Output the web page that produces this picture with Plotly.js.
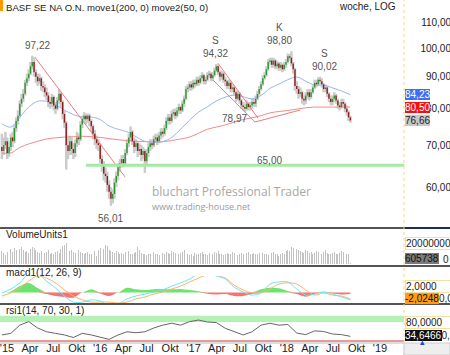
<!DOCTYPE html>
<html><head><meta charset="utf-8">
<script src="https://cdn.plot.ly/plotly-3.0.1.min.js"></script>
<style>html,body{margin:0;padding:0;background:#fff}#chart{width:450px;height:355px}</style>
</head><body><div id="chart"></div>
<script>
// weekly candles, first week 2014-12-12
const opens=[69.5,68.5,70.0,71.0,68.0,69.5,72.0,71.0,74.5,76.5,78.0,81.5,83.0,84.5,88.0,89.5,91.0,93.5,95.0,91.5,90.0,88.5,89.5,87.0,86.5,85.0,84.0,82.0,81.5,83.5,81.0,80.0,82.5,84.5,82.0,78.5,76.0,70.0,68.5,71.0,69.0,68.0,70.5,72.0,71.5,75.5,77.0,78.0,77.0,78.0,76.5,75.0,73.0,71.5,70.5,70.0,66.5,65.0,63.0,62.5,60.5,59.0,57.5,58.5,61.0,62.5,64.5,65.5,66.5,65.5,68.0,70.5,72.0,73.5,71.0,69.5,70.5,68.5,69.0,67.5,68.5,66.0,68.0,69.5,70.5,70.0,71.5,72.0,71.0,72.5,73.5,73.0,74.5,76.5,77.5,76.5,78.5,79.0,78.0,79.5,80.5,79.5,81.5,83.0,86.0,86.5,87.5,86.5,88.0,87.5,89.0,88.0,89.5,90.5,88.5,89.0,90.5,91.0,89.5,90.5,92.0,93.5,91.5,90.0,91.0,89.0,88.5,87.0,88.0,86.0,86.5,85.0,83.0,84.5,82.5,81.0,80.5,80.0,81.5,80.5,81.0,82.0,81.5,83.0,84.5,86.0,87.5,89.5,90.5,92.5,95.0,95.5,94.0,95.5,93.5,94.5,93.0,94.0,92.5,94.0,95.0,97.0,96.5,94.5,92.5,87.0,86.0,84.5,85.0,83.0,82.5,84.0,85.0,83.5,85.0,86.5,88.0,87.5,89.0,88.5,87.5,86.0,86.5,84.5,83.0,82.0,83.0,84.0,82.5,81.0,80.5,82.0,81.5,80.0,79.0,77.5];
const highs=[73.0,72.0,73.5,72.0,71.0,73.0,73.5,75.5,77.5,79.5,82.5,84.5,86.0,89.0,91.0,92.5,95.0,97.22,96.5,92.5,91.0,91.0,90.0,88.5,87.5,86.5,85.0,83.5,84.5,84.0,82.0,83.5,86.0,85.0,82.5,79.5,76.5,72.0,72.5,72.0,70.5,71.5,73.5,73.0,76.5,78.0,79.0,78.6,78.6,78.5,77.0,75.5,74.0,72.5,71.5,70.5,67.5,66.0,64.5,63.5,61.5,60.0,59.5,62.0,63.5,65.5,66.5,67.5,67.5,69.0,71.5,73.0,75.0,74.0,72.0,71.5,71.0,70.5,70.0,69.5,69.0,69.0,70.5,71.5,71.5,72.5,73.0,73.0,73.5,74.5,74.5,75.5,77.5,78.5,78.5,79.5,80.0,80.0,80.5,81.5,81.0,82.5,84.0,87.0,87.5,88.5,88.5,89.0,89.0,90.0,90.0,90.5,91.5,91.0,90.0,91.5,92.0,91.5,91.5,93.0,94.32,94.0,92.0,92.0,91.5,90.0,89.0,89.0,88.5,87.5,87.0,85.5,85.5,85.0,83.0,82.0,81.5,82.5,82.0,82.0,83.0,83.0,84.0,85.5,87.0,88.5,90.5,91.5,93.5,96.0,96.5,96.5,96.5,96.0,95.5,95.0,95.0,94.5,95.0,96.0,98.0,97.8,98.8,95.0,93.0,88.5,87.0,86.5,85.5,84.0,85.0,86.0,86.0,86.0,87.5,89.0,89.0,89.8,90.02,89.5,88.0,87.5,87.0,85.0,84.0,84.0,85.0,84.5,83.0,82.0,83.0,83.0,82.0,81.0,79.5,78.0];
const lows=[66.5,67.5,69.0,66.5,67.0,68.5,69.5,70.5,73.5,75.5,77.5,80.5,82.0,84.0,87.0,88.5,90.5,92.5,90.0,88.0,87.0,87.5,85.5,85.0,83.5,82.5,80.5,80.0,80.5,79.5,78.5,79.5,81.5,80.5,77.0,74.5,64.0,66.5,67.5,67.5,66.5,67.0,69.5,70.0,71.0,74.5,76.0,75.5,76.0,75.0,73.5,71.5,70.0,69.0,68.5,65.5,63.5,61.5,61.0,59.0,57.5,56.01,56.5,57.5,60.0,61.5,63.5,64.5,64.5,65.0,67.5,69.5,71.0,70.0,68.0,68.5,67.0,67.5,66.0,66.5,63.2,65.0,67.0,68.5,69.0,69.5,70.5,70.0,70.5,71.5,72.0,72.5,74.0,75.5,75.5,76.0,77.5,77.0,77.5,78.5,78.5,79.0,80.5,82.5,85.0,85.5,85.5,86.0,86.5,87.0,87.0,87.5,88.5,87.5,87.5,88.5,89.5,88.5,88.5,90.0,91.5,90.5,88.5,89.0,88.0,87.0,86.0,86.0,85.0,85.0,84.0,82.0,82.5,81.5,80.0,79.5,78.97,79.5,79.5,79.5,80.0,80.5,80.5,82.5,84.0,85.5,87.0,89.0,90.0,92.0,94.0,93.0,93.0,92.5,92.5,92.0,92.0,91.5,92.0,93.0,94.5,95.5,93.5,91.0,85.5,84.5,83.0,83.5,81.5,81.0,81.5,83.0,82.5,83.0,84.5,86.0,86.5,87.0,87.5,86.5,85.0,85.0,83.5,82.0,81.0,81.0,82.0,81.5,80.0,79.5,80.0,80.5,79.0,78.0,76.5,76.0];
const closes=[68.5,70.0,71.0,68.0,69.5,72.0,71.0,74.5,76.5,78.0,81.5,83.0,84.5,88.0,89.5,91.0,93.5,95.0,91.5,90.0,88.5,89.5,87.0,86.5,85.0,84.0,82.0,81.5,83.5,81.0,80.0,82.5,84.5,82.0,78.5,76.0,70.0,68.5,71.0,69.0,68.0,70.5,72.0,71.5,75.5,77.0,78.0,77.0,78.0,76.5,75.0,73.0,71.5,70.5,70.0,66.5,65.0,63.0,62.5,60.5,59.0,57.5,58.5,61.0,62.5,64.5,65.5,66.5,65.5,68.0,70.5,72.0,73.5,71.0,69.5,70.5,68.5,69.0,67.5,68.5,66.0,68.0,69.5,70.5,70.0,71.5,72.0,71.0,72.5,73.5,73.0,74.5,76.5,77.5,76.5,78.5,79.0,78.0,79.5,80.5,79.5,81.5,83.0,86.0,86.5,87.5,86.5,88.0,87.5,89.0,88.0,89.5,90.5,88.5,89.0,90.5,91.0,89.5,90.5,92.0,93.5,91.5,90.0,91.0,89.0,88.5,87.0,88.0,86.0,86.5,85.0,83.0,84.5,82.5,81.0,80.5,80.0,81.5,80.5,81.0,82.0,81.5,83.0,84.5,86.0,87.5,89.5,90.5,92.5,95.0,95.5,94.0,95.5,93.5,94.5,93.0,94.0,92.5,94.0,95.0,97.0,96.5,94.5,92.5,87.0,86.0,84.5,85.0,83.0,82.5,84.0,85.0,83.5,85.0,86.5,88.0,87.5,89.0,88.5,87.5,86.0,86.5,84.5,83.0,82.0,83.0,84.0,82.5,81.0,80.5,82.0,81.5,80.0,79.0,77.5,76.66];
const volumesMio=[14,12,9,13,15,16,13,17,15,14,16,18,15,13,14,12,16,18,17,15,13,12,14,11,12,13,15,10,12,11,13,14,12,16,19,20,22,17,14,15,13,12,14,15,13,12,11,12,13,10,11,12,14,8,15,17,18,16,20,19,15,14,13,12,14,13,11,12,10,13,12,14,11,10,12,13,18,15,12,11,10,9,11,10,12,13,11,10,9,11,12,10,13,12,11,14,13,12,11,10,12,13,15,12,11,9,10,8,12,11,10,12,13,11,10,9,12,11,10,13,12,14,11,10,9,11,12,10,11,13,12,10,9,11,12,10,11,12,13,11,10,12,11,10,12,13,12,11,10,9,11,12,13,11,10,8,11,12,10,14,15,14,18,17,20,16,15,14,13,12,15,14,12,13,11,12,14,13,12,11,13,15,12,11,10,12,13,11,10,12,14,13,12,11,10,0.605738];
// indicator readings every 5 weeks
const indicatorWeeks=[0,5,10,15,20,25,30,35,40,45,50,55,60,65,70,75,80,85,90,95,100,105,110,115,120,125,130,135,140,145,150,155,160,165,170,175,180,185,190,195];
const move1=[68.0,68.0,69.4,70.3,71.0,71.6,71.9,72.1,72.2,72.3,72.2,72.0,71.7,71.4,71.2,71.0,70.9,70.8,70.9,71.2,71.6,72.1,73.1,74.2,74.8,75.4,76.2,76.9,77.4,78.0,78.8,79.2,79.5,79.9,80.3,80.5,80.5,80.5,80.5,80.5];
const move2=[75.7,74.8,77.5,80.5,82.2,82.2,81.2,79.6,78.3,77.6,77.6,76.9,75.1,74.2,73.5,72.2,71.0,70.8,70.9,72.0,74.2,76.7,79.0,80.6,82.3,83.5,84.1,83.6,83.0,84.0,86.2,87.6,89.0,89.9,88.5,87.3,87.3,86.4,85.4,84.23];
const macdLine=[-0.15,1.1,3.0,5.8,5.8,3.6,1.4,-1.1,-2.97,-3.0,-2.3,-2.7,-3.9,-3.6,-2.0,-1.1,-0.5,0.15,0.8,2.0,3.0,4.2,5.8,5.8,5.2,4.2,1.7,0.15,-0.8,-0.15,2.65,3.3,3.3,1.1,-0.8,-0.5,0.15,-0.5,-1.4,-2.3];
const macdSignal=[-1.1,-0.15,1.4,3.6,5.2,4.5,3.0,0.8,-1.1,-2.3,-3.0,-3.0,-3.0,-3.3,-3.0,-2.0,-1.4,-0.5,0.15,1.1,2.0,3.3,4.5,5.5,5.2,4.5,2.3,0.8,-0.15,-0.15,1.1,2.65,3.0,2.65,0.8,-0.8,-0.15,-0.8,-1.1,-2.0248];
const macdHist=[0,0.3,2.0,3.0,1.4,-0.5,-1.1,-1.4,-1.6,0,1.0,-0.3,-1.1,0,1.5,1.0,0.8,1.0,1.1,1.0,1.1,0.8,0.4,-0.4,-0.6,-0.5,-1.1,-1.1,-0.5,1.0,1.5,1.3,0.5,-0.5,-1.3,-0.5,0.2,-0.3,-0.6,-0.5];
const rsiValues=[39,44,70,81,61,49,44,39,31,44,39,33,25,39,49,46,49,61,70,76,70,81,86,80,78,60,49,39,49,70,76,70,72,45,40,52,50,42,40,34.6466];
// trend lines and support
const trend1Dates=['2015-04-20','2016-04-07'], trend1Values=[96.7,62.3];
const trend2Dates=['2017-04-06','2017-09-10'], trend2Values=[94.6,77.3];
const trend3Dates=['2017-08-29','2018-02-21'], trend3Values=[76.2,79.6];
const trend4Dates=['2017-03-18','2017-08-29'], trend4Values=[88.9,76.2];
const supportDates=['2015-11-06','2019-04-05'], supportValues=[65.0,65.0];
// marks / labels
const markTexts=['97,22','S','94,32','K','98,80','S','90,02','56,01','78,97','65,00'];
const markDates=['2015-05-02','2017-03-27','2017-03-29','2017-12-04','2017-12-05','2018-05-30','2018-05-30','2016-02-12','2017-06-12','2017-10-27'];
const markValues=[97.22,94.32,94.32,98.80,98.80,90.02,90.02,56.01,78.97,65.00];
// axes
const xTickDates=['2015-01-01','2015-04-01','2015-07-01','2015-10-01','2016-01-01','2016-04-01','2016-07-01','2016-10-01','2017-01-01','2017-04-01','2017-07-01','2017-10-01','2018-01-01','2018-04-01','2018-07-01','2018-10-01','2019-01-01'];
const xTickLabels=["'15",'Apr','Jul','Okt',"'16",'Apr','Jul','Okt',"'17",'Apr','Jul','Okt',"'18",'Apr','Jul','Okt',"'19"];
const priceTicks=[60,70,80,90,100,110];
const priceTickLabels=['60,00','70,00','80,00','90,00','100,00','110,00'];

function wd(i){return new Date(Date.UTC(2014,11,12)+i*604800000).toISOString().slice(0,10);}
const dates=closes.map((_,i)=>wd(i));
const indDates=indicatorWeeks.map(wd);
const rx=[],ry=[],ux=[],uy=[],dx=[],dy=[];
for(let i=0;i<closes.length;i++){
  rx.push(dates[i],dates[i],null); ry.push(lows[i],highs[i],null);
  if(closes[i]>=opens[i]){ux.push(dates[i],dates[i],null);uy.push(opens[i],closes[i],null);}
  else{dx.push(dates[i],dates[i],null);dy.push(opens[i],closes[i],null);}
}
const F='Liberation Sans, Arial, sans-serif';
const traces=[
 {x:rx,y:ry,mode:'lines',line:{color:'#cbcbcb',width:2.5},hoverinfo:'skip'},
 {x:indDates,y:move1,mode:'lines',line:{color:'#f38a8a',width:1,shape:'spline'}},
 {x:indDates,y:move2,mode:'lines',line:{color:'#9cb4f4',width:1,shape:'spline'}},
 {x:trend1Dates,y:trend1Values,mode:'lines',line:{color:'#f07a7a',width:1}},
 {x:trend2Dates,y:trend2Values,mode:'lines',line:{color:'#f07a7a',width:1}},
 {x:trend3Dates,y:trend3Values,mode:'lines',line:{color:'#f07a7a',width:1}},
 {x:trend4Dates,y:trend4Values,mode:'lines',line:{color:'#f07a7a',width:1}},
 {x:ux,y:uy,mode:'lines',line:{color:'#2e962e',width:1.4}},
 {x:dx,y:dy,mode:'lines',line:{color:'#8c1c1c',width:1.4}},
 {x:supportDates,y:supportValues,mode:'lines',line:{color:'#a4eaa4',width:3}},
 {x:dates,y:volumesMio.map(v=>v*1e6),type:'bar',yaxis:'y2',marker:{color:'#c2c2c2'},width:604800000*0.5},
 {x:indDates,y:macdHist.map(v=>Math.max(v,0)),mode:'lines',fill:'tozeroy',fillcolor:'#6ee46e',line:{width:0,shape:'spline'},yaxis:'y3'},
 {x:indDates,y:macdHist.map(v=>Math.min(v,0)),mode:'lines',fill:'tozeroy',fillcolor:'#fb7070',line:{width:0,shape:'spline'},yaxis:'y3'},
 {x:indDates,y:macdSignal,mode:'lines',line:{color:'#ffb266',width:1,shape:'spline'},yaxis:'y3'},
 {x:indDates,y:macdLine,mode:'lines',line:{color:'#66e8f6',width:1,shape:'spline'},yaxis:'y3'},
 {x:indDates,y:rsiValues,mode:'lines',line:{color:'#666',width:1},yaxis:'y4'}
];
const P=v=>(355-v)/355, X=v=>v/450;
const XR=X(404);
const ann=[];
const txt=(t,x,y,o)=>ann.push(Object.assign({text:t,x:x,y:y,xref:'paper',yref:'paper',showarrow:false,xanchor:'left',yanchor:'middle',font:{family:F,size:10,color:'#222'}},o||{}));
txt('BASF SE NA O.N. move1(200, 0) move2(50, 0)',X(4),P(8),{font:{family:F,size:9.6,color:'#222'}});
txt('woche, LOG',X(398),P(7),{xanchor:'right'});
txt('VolumeUnits1',X(4),P(234));
txt('macd1(12, 26, 9)',X(4),P(272));
txt('rsi1(14, 70, 30, 1)',X(4),P(310));
txt('bluchart Professional Trader',X(150),P(192),{font:{family:'Open Sans, sans-serif',size:12,color:'#a8a8a8'}});
txt('www.trading-house.net',X(150),P(206),{font:{family:'Open Sans, sans-serif',size:9,color:'#9a9a9a'}});
// right side value boxes
txt('0',X(441),P(259));
txt('0,0000',X(437),P(298));
txt('20,0000',X(434),P(335));
const box=(t,y,bg,fg,bc)=>txt(t,XR+0.002,P(y),{bgcolor:bg,bordercolor:bc||bg,borderwidth:bc?1:0,borderpad:0,font:{family:F,size:10,color:fg}});
box('84,23',95,'#3f6ff2','#ffffff');
box('80,50',107,'#f50f0f','#ffffff');
box('76,66',120,'#c8c8c8','#222222');
box('20000000 ',243,'#ffffff','#222222','#f3dfa0');
box('605738',258,'#7b7b7b','#111111');
box('2,0000      ',286,'#ffffff','#222222','#f3dfa0');
box('-2,0248',298,'#ff9c12','#111111');
box('80,0000    ',322,'#ffffff','#222222','#f3dfa0');
box('34,6466',335,'#111111','#ffffff');
ann.push({text:'▴',x:X(427),y:P(349),xref:'paper',yref:'paper',showarrow:false,font:{size:9,color:'#2244cc'}});
// chart marks
for(let i=0;i<markTexts.length;i++){
  const t=markTexts[i];
  const o={text:t,x:markDates[i],y:Math.log10(markValues[i]),xref:'x',yref:'y',showarrow:false,font:{family:F,size:10,color:'#555'}};
  if(t==='56,01'){o.yanchor='top';o.yshift=-5;}
  else if(t==='78,97'){o.yanchor='top';o.yshift=1;}
  else if(t==='65,00'){o.yanchor='middle';o.yshift=5;}
  else if(t==='S'||t==='K'){o.yanchor='bottom';o.yshift=16;}
  else {o.yanchor='bottom';o.yshift=3;}
  ann.push(o);
}
const shapes=[
 {type:'rect',xref:'paper',yref:'paper',x0:0,x1:X(3),y0:P(11),y1:1,fillcolor:'#ff9900',line:{width:0}},
 {type:'rect',xref:'paper',yref:'y4',x0:0,x1:XR,y0:80,y1:100,fillcolor:'#b6f0b6',line:{width:0},layer:'below'},
 {type:'line',xref:'paper',yref:'y4',x0:0,x1:XR,y0:20,y1:20,line:{color:'#e47878',width:1.5}},
 {type:'line',xref:'paper',yref:'paper',x0:0,x1:XR,y0:P(228),y1:P(228),line:{color:'#555',width:2}},
 {type:'line',xref:'paper',yref:'paper',x0:XR,x1:1,y0:P(228),y1:P(228),line:{color:'#202a60',width:2}},
 {type:'line',xref:'paper',yref:'paper',x0:0,x1:1,y0:P(266),y1:P(266),line:{color:'#555',width:2}},
 {type:'line',xref:'paper',yref:'paper',x0:0,x1:1,y0:P(304),y1:P(304),line:{color:'#555',width:2}},
 {type:'line',xref:'paper',yref:'paper',x0:0,x1:XR,y0:P(343),y1:P(343),line:{color:'#bbb',width:1}},
 {type:'line',xref:'paper',yref:'paper',x0:XR,x1:XR,y0:0,y1:1,line:{color:'#efd488',width:1,dash:'dot'}},
 {type:'rect',xref:'paper',yref:'paper',x0:XR,x1:1,y0:0,y1:P(343),fillcolor:'#eeeeee',line:{color:'#cccccc',width:1}}
];
const layout={
 width:450,height:355,margin:{l:0,r:0,t:0,b:0},paper_bgcolor:'#fff',plot_bgcolor:'#fff',showlegend:false,
 font:{family:F,size:10,color:'#222'},
 xaxis:{domain:[0,XR],range:['2014-12-04 14:00','2019-04-05'],type:'date',anchor:'free',position:P(343),
   tickmode:'array',tickvals:xTickDates,ticktext:xTickLabels,ticks:'',showgrid:false,zeroline:false,showline:false,
   ticklabeloverflow:'allow',ticklabelstandoff:-3,tickfont:{family:F,size:11,color:'#222'}},
 yaxis:{type:'log',domain:[P(228),1],range:[1.71292,2.07656],anchor:'free',position:1,side:'right',ticklabelposition:'inside',
   ticklabeloverflow:'allow',ticklabelstandoff:-4,
   tickmode:'array',tickvals:priceTicks,ticktext:priceTickLabels,ticks:'',showgrid:false,zeroline:false,showline:false,
   tickfont:{family:F,size:10,color:'#222'}},
 yaxis2:{domain:[P(264),P(229)],range:[0,36.8e6],anchor:'x',showticklabels:false,showgrid:false,zeroline:false,ticks:''},
 yaxis3:{domain:[P(303),P(276)],range:[-3.28,5.16],anchor:'x',showticklabels:false,showgrid:false,zeroline:false,ticks:''},
 yaxis4:{domain:[P(343),P(304)],range:[13.6,136.7],anchor:'x',showticklabels:false,showgrid:false,zeroline:false,ticks:''},
 bargap:0,annotations:ann,shapes:shapes
};
Plotly.newPlot('chart',traces,layout,{staticPlot:true,displayModeBar:false});
</script></body></html>
